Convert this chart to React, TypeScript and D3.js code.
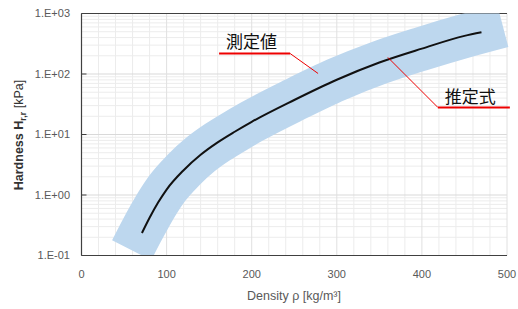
import React from 'react';
import * as d3 from 'd3';

// estimated curve (推定式)
const densityEst = [71, 80, 90, 100, 120, 140, 160, 180, 200, 250, 300, 350, 400, 450, 470];
const hardnessEst = [0.235, 0.42, 0.75, 1.23, 2.57, 4.62, 7.41, 11.1, 16.2, 37.2, 80.4, 155, 263, 427, 490];

// measured band (測定値)
const densityMeas = [59, 70, 80, 90, 100, 120, 140, 160, 180, 200, 250, 300, 350, 400, 450, 495];
const hardnessMeas = [0.122, 0.244, 0.443, 0.77, 1.25, 2.6, 4.7, 7.5, 11.2, 16.3, 37.5, 81, 154, 262, 425, 630];

const xTicks = [0, 100, 200, 300, 400, 500];
const yTicks = [0.1, 1, 10, 100, 1000];
const yTickLabels = ['1.E-01', '1.E+00', '1.E+01', '1.E+02', '1.E+03'];

const W = 518;
const H = 309;
const left = 81.5, right = 507, top = 13.5, bottom = 255.5;

export default function App() {
  const x = d3.scaleLinear().domain([0, 500]).range([left, right]);
  const y = d3.scaleLog().domain([0.1, 1000]).range([bottom, top]);

  const line = d3.line<[number, number]>()
    .x(d => x(d[0]))
    .y(d => y(d[1]))
    .curve(d3.curveMonotoneX);

  const est = densityEst.map((d, i) => [d, hardnessEst[i]] as [number, number]);
  const meas = densityMeas.map((d, i) => [d, hardnessMeas[i]] as [number, number]);

  const xMinor = d3.range(20, 500, 20);
  const yMinor: number[] = [];
  for (let e = -1; e < 3; e++) for (let k = 2; k <= 9; k++) yMinor.push(k * Math.pow(10, e));

  const font = '"Liberation Sans", Arial, sans-serif';
  const grey = '#595959';

  // annotation anchors
  const measTip: [number, number] = [x(278), y(102)];
  const measLbl: [number, number] = [measTip[0] - 28, measTip[1] - 20];
  const estTip: [number, number] = [x(360), y(188)];
  const estLbl: [number, number] = [estTip[0] + 50, estTip[1] + 50];

  return (
    <svg width={W} height={H} style={{ position: 'absolute', left: 0, top: 0, background: '#fff' }}>
      <defs>
        <clipPath id="plot">
          <rect x={left} y={top} width={W - left} height={bottom - top} />
        </clipPath>
      </defs>
      {/* gridlines */}
      {yMinor.map(v => (
        <line key={'ym' + v} x1={left} x2={right} y1={y(v)} y2={y(v)} stroke="#ececec" />
      ))}
      {xMinor.filter(v => v % 100 !== 0).map(v => (
        <line key={'xm' + v} x1={x(v)} x2={x(v)} y1={top} y2={bottom} stroke="#ececec" />
      ))}
      {yTicks.map(v => (
        <line key={'yg' + v} x1={left} x2={right} y1={y(v)} y2={y(v)} stroke="#d9d9d9" />
      ))}
      {xTicks.slice(1).map(v => (
        <line key={'xg' + v} x1={x(v)} x2={x(v)} y1={top} y2={bottom} stroke="#e0e0e0" />
      ))}
      <line x1={left} x2={right} y1={top} y2={top} stroke="#404040" strokeWidth={1.2} />

      {/* measured band */}
      <g clipPath="url(#plot)">
        <path d={line(meas) || ''} fill="none" stroke="#bdd7ee" strokeWidth={44} strokeLinecap="butt" strokeLinejoin="round" />
      </g>
      {/* estimate */}
      <path d={line(est) || ''} fill="none" stroke="#111" strokeWidth={2} />

      {/* axes */}
      <line x1={left} x2={left} y1={top} y2={bottom} stroke="#404040" strokeWidth={1.2} />
      <line x1={left} x2={right} y1={bottom} y2={bottom} stroke="#404040" strokeWidth={1.2} />
      {yTicks.map(v => (
        <line key={'yt' + v} x1={left} x2={left + 5} y1={y(v)} y2={y(v)} stroke="#404040" />
      ))}

      {yTicks.map((v, i) => (
        <text key={'yl' + v} x={70} y={y(v)} dy="0.35em" textAnchor="end" fontFamily={font} fontSize={11} fill={grey}>
          {yTickLabels[i]}
        </text>
      ))}
      {xTicks.map(v => (
        <text key={'xl' + v} x={x(v)} y={278} textAnchor="middle" fontFamily={font} fontSize={11} fill={grey}>
          {v}
        </text>
      ))}
      <text x={294} y={300} textAnchor="middle" fontFamily={font} fontSize={12.5} fill={grey}>
        Density ρ [kg/m³]
      </text>
      <text transform="translate(23,135) rotate(-90)" textAnchor="middle" fontFamily={font} fontSize={12.5} fill="#333">
        <tspan fontWeight="bold">Hardness H</tspan>
        <tspan fontSize={9} dy={3} fontWeight="bold">r,r</tspan>
        <tspan dy={-3}> [kPa]</tspan>
      </text>

      {/* annotations */}
      <line x1={measLbl[0] - 71} x2={measLbl[0]} y1={measLbl[1]} y2={measLbl[1]} stroke="#e00" strokeWidth={2} />
      <line x1={measLbl[0]} x2={measTip[0]} y1={measLbl[1]} y2={measTip[1]} stroke="#e00" strokeWidth={1} />
      <text x={measLbl[0] - 64} y={measLbl[1] - 5} fontFamily='"Noto Sans CJK JP", sans-serif' fontSize={17} fill="#111">
        測定値
      </text>
      <line x1={estLbl[0]} x2={estLbl[0] + 72} y1={estLbl[1]} y2={estLbl[1]} stroke="#e00" strokeWidth={2} />
      <line x1={estLbl[0]} x2={estTip[0]} y1={estLbl[1]} y2={estTip[1]} stroke="#e00" strokeWidth={1} />
      <text x={estLbl[0] + 7} y={estLbl[1] - 4} fontFamily='"Noto Sans CJK JP", sans-serif' fontSize={17} fill="#111">
        推定式
      </text>
    </svg>
  );
}
